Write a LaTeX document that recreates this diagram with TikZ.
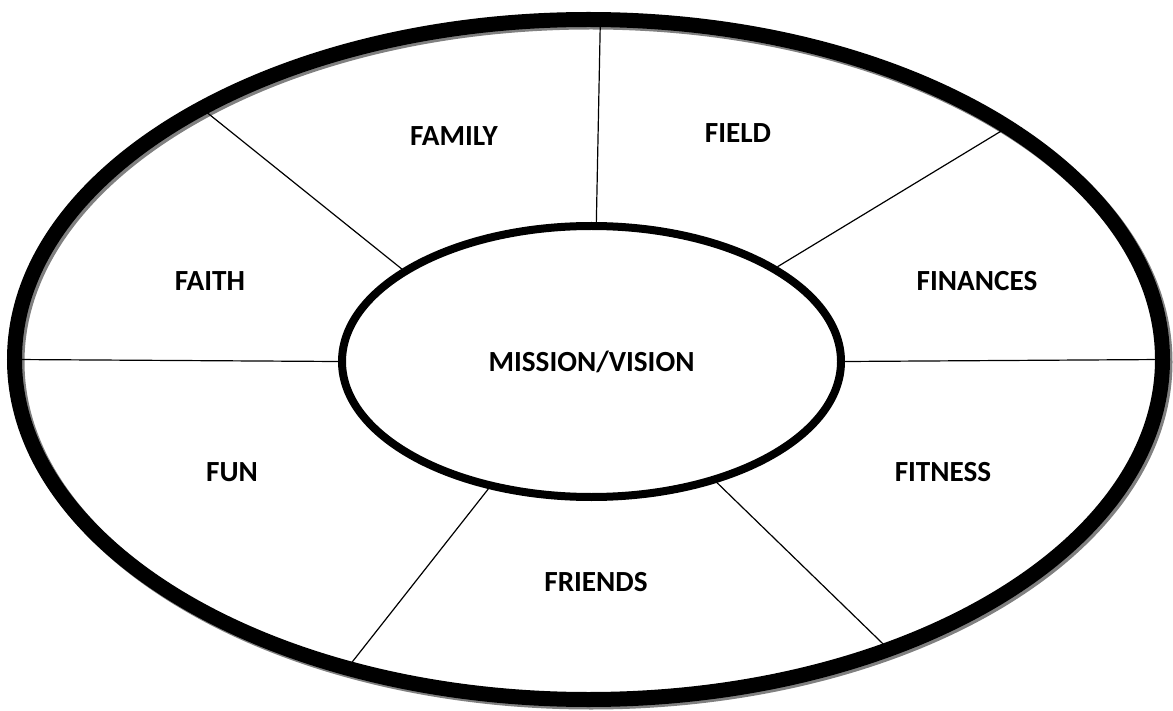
\documentclass[tikz,border=0pt]{standalone}
\usepackage{fontspec}
\setmainfont{Carlito}
\usetikzlibrary{shapes.geometric}

\tikzset{
  ring/.style={ellipse,draw,line width=7.5pt,minimum width=574pt,minimum height=340pt,inner sep=0pt,outer sep=0pt},
  hub/.style={ellipse,draw,line width=4pt,minimum width=249.5pt,minimum height=135.5pt,inner sep=0pt},
  spoke/.style={line width=0.6pt},
  area/.style={font=\bfseries\fontsize{14.6}{16}\selectfont}
}

\begin{document}
\begin{tikzpicture}
  [x=0.5pt,y=-0.5pt] % pixel units, y runs downwards like the sketch
    \useasboundingbox (0,0) rectangle (1173,711);

    \node[ring,draw=black!50] (shade) at (591,362) {};
    \node[ring] (rim) at (588.5,359.5) {};
    \node[hub,area] (hub) at (591.5,361.5) {MISSION/VISION};

    \node[area] (family)   at (454,136) {FAMILY};
    \node[area] (field)    at (738,133) {FIELD};
    \node[area] (faith)    at (210,281) {FAITH};
    \node[area] (finances) at (977,281) {FINANCES};
    \node[area] (fun)      at (232,472) {FUN};
    \node[area] (fitness)  at (943,472) {FITNESS};
    \node[area] (friends)  at (596,582) {FRIENDS};

    \draw[spoke] (hub.88.6)   -- (rim.88.9);
    \draw[spoke] (hub.154.6)  -- (rim.147);
    \draw[spoke] (hub.180)    -- (rim.180);
    \draw[spoke] (hub.-129.5) -- (rim.-128.5);
    \draw[spoke] (hub.-44)    -- (rim.-44.3);
    \draw[spoke] (hub.0)      -- (rim.0);
    \draw[spoke] (hub.27.2)   -- (rim.29.5);

\end{tikzpicture}
\end{document}
